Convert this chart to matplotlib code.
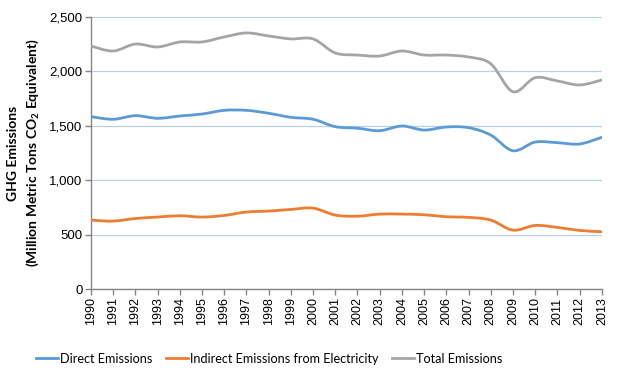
import matplotlib
matplotlib.use("Agg")
import matplotlib.pyplot as plt
import numpy as np
from matplotlib.path import Path
from matplotlib.patches import PathPatch
from matplotlib.lines import Line2D

years = list(range(1990, 2014))
direct = [1584, 1560, 1593, 1569, 1590, 1608, 1642, 1642, 1615, 1578, 1560, 1492,
          1478, 1455, 1498, 1461, 1489, 1483, 1415, 1271, 1351, 1345, 1333, 1394]
indirect = [634, 625, 649, 662, 674, 662, 677, 708, 717, 732, 744, 680,
            670, 689, 689, 683, 665, 659, 634, 542, 585, 567, 539, 527]
total = [2233, 2187, 2251, 2224, 2270, 2270, 2316, 2353, 2325, 2298, 2298, 2169,
         2150, 2141, 2187, 2150, 2150, 2132, 2070, 1813, 1942, 1912, 1875, 1921]

series = [
    ("Direct Emissions", direct, "#5B9BD5"),
    ("Indirect Emissions from Electricity", indirect, "#ED7D31"),
    ("Total Emissions", total, "#A5A5A5"),
]


def smooth_path(x, y):
    # Excel-style smoothed line: Catmull-Rom as cubic Bezier segments
    pts = np.column_stack([x, y]).astype(float)
    n = len(pts)
    verts = [pts[0]]
    codes = [Path.MOVETO]
    for i in range(n - 1):
        p0 = pts[max(i - 1, 0)]
        p1 = pts[i]
        p2 = pts[i + 1]
        p3 = pts[min(i + 2, n - 1)]
        c1 = p1 + (p2 - p0) / 6.0
        c2 = p2 - (p3 - p1) / 6.0
        verts += [c1, c2, p2]
        codes += [Path.CURVE4] * 3
    return Path(verts, codes)


plt.rcParams["mathtext.fontset"] = "custom"
plt.rcParams["mathtext.rm"] = "Lato"
plt.rcParams["mathtext.bf"] = "Lato:bold"

fig = plt.figure(figsize=(6.23, 3.76), dpi=100)
ax = fig.add_axes([0.146, 0.231, 0.820, 0.724])

handles = []
for name, vals, color in series:
    patch = PathPatch(smooth_path(years, vals), facecolor="none", edgecolor=color,
                      lw=2.0, capstyle="round", joinstyle="round", zorder=3)
    ax.add_patch(patch)
    handles.append(Line2D([], [], color=color, lw=2.0, label=name))

ax.set_xlim(1990, 2013)
ax.set_ylim(0, 2500)
ax.set_yticks(np.arange(0, 2501, 500))
ax.set_yticklabels([f"{v:,}" for v in range(0, 2501, 500)], fontsize=9.5,
                   family="Liberation Sans")
ax.set_xticks(years)
ax.set_xticklabels([str(y) for y in years], rotation=90, fontsize=9,
                   family="Liberation Sans")

ax.grid(axis="y", color="#B7D0EE", lw=0.9, zorder=0)
for side in ["top", "right"]:
    ax.spines[side].set_visible(False)
for side in ["left", "bottom"]:
    ax.spines[side].set_color("#868686")
    ax.spines[side].set_linewidth(1.0)
ax.tick_params(axis="both", color="#868686", length=4, width=1.0, pad=2)

ax.set_ylabel("GHG Emissions\n(Million Metric Tons CO$_\\mathbf{2}$ Equivalent)",
              fontsize=10, fontweight="bold", family="Lato", labelpad=6,
              linespacing=1.4)

fig.legend(handles=handles, loc="center", bbox_to_anchor=(0.432, 0.046), ncol=3,
           frameon=False, prop={"family": "Lato", "size": 9.1},
           handlelength=1.75, handletextpad=0.15, columnspacing=1.1)

plt.savefig("out.png", dpi=100)
plt.close(fig)
